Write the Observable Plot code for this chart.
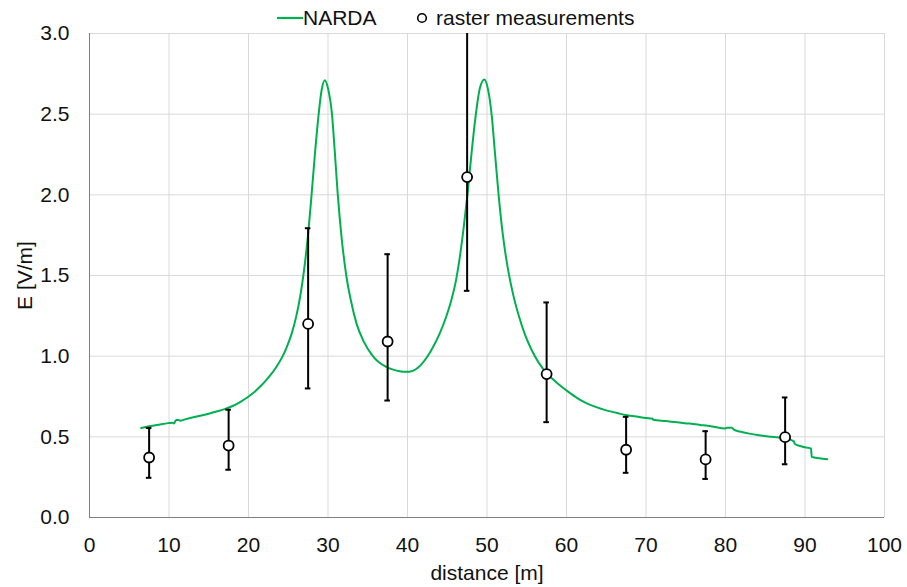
<!DOCTYPE html>
<html>
<head>
<meta charset="utf-8">
<script src="https://cdn.jsdelivr.net/npm/d3@7"></script>
<script src="https://cdn.jsdelivr.net/npm/@observablehq/plot@0.6"></script>
<style>
  body { margin: 0; background: #fff; font-family: "Liberation Sans", Arial, sans-serif; }
  #wrap { position: relative; width: 907px; height: 587px; }
  #legend { position: absolute; top: 4px; left: 0; width: 907px; height: 28px; font-size: 21px; color: #111; }
  #legend .item { position: absolute; top: 0; display: flex; align-items: center; height: 28px; }
</style>
</head>
<body>
<div id="wrap">
  <div id="chart"></div>
  <div id="legend">
    <div class="item" style="left:277px"><svg width="26" height="10"><line x1="0" y1="5" x2="26" y2="5" stroke="#00b050" stroke-width="2.2"/></svg><span>NARDA</span></div>
    <div class="item" style="left:414px"><svg width="22" height="12"><circle cx="8" cy="6" r="4.3" fill="#fff" stroke="#000" stroke-width="1.6"/></svg><span>raster measurements</span></div>
  </div>
</div>
<script>
// Raster measurements (distance, E, error range)
const measX  = [7.5, 17.5, 27.5, 37.5, 47.5, 57.5, 67.5, 77.5, 87.5];
const measY  = [0.372, 0.446, 1.20, 1.091, 2.11, 0.889, 0.42, 0.36, 0.498];
const measLo = [0.246, 0.296, 0.80, 0.725, 1.405, 0.591, 0.277, 0.239, 0.330];
const measHi = [0.555, 0.668, 1.793, 1.632, 3.0, 1.333, 0.624, 0.535, 0.744];

// NARDA continuous measurement
const nardaX = [6.5, 7.5, 8.5, 9.9, 10.4, 10.6, 10.9, 11.2, 11.5, 12.0, 13.5, 15.0, 16.0, 17.0, 17.7, 18.5, 19.1, 19.8, 20.5, 21.0, 21.6, 22.2, 22.8, 23.4, 24.3, 24.8, 25.4, 26.0, 26.5, 26.9, 27.4, 27.9, 28.35, 28.8, 29.2, 29.6, 30.0, 30.5, 30.85, 31.2, 31.7, 32.3, 32.9, 33.6, 34.5, 35.5, 36.4, 37.4, 38.3, 39.0, 39.7, 40.2, 40.8, 41.3, 41.8, 42.4, 43.2, 44.0, 44.8, 45.5, 46.1, 46.6, 47.1, 47.6, 48.1, 48.6, 49.1, 49.67, 50.1, 50.6, 51.0, 51.46, 52.0, 52.6, 53.3, 54.0, 54.8, 55.6, 56.5, 57.5, 58.5, 59.2, 60.2, 61.3, 62.3, 63.4, 64.5, 65.5, 66.5, 67.6, 69.0, 70.0, 70.8, 70.9, 72.5, 73.9, 75.5, 76.8, 78.5, 79.9, 80.2, 80.8, 81.1, 81.8, 83.0, 84.2, 85.8, 87.5, 88.6, 88.7, 89.6, 90.6, 90.75, 90.85, 91.8, 92.8];
const nardaY = [0.555, 0.565, 0.573, 0.585, 0.588, 0.583, 0.604, 0.605, 0.600, 0.608, 0.626, 0.643, 0.657, 0.672, 0.685, 0.703, 0.72, 0.742, 0.768, 0.79, 0.818, 0.85, 0.885, 0.925, 1.0, 1.055, 1.135, 1.245, 1.37, 1.5, 1.71, 1.98, 2.25, 2.49, 2.65, 2.71, 2.66, 2.5, 2.27, 2.02, 1.74, 1.5, 1.34, 1.2, 1.09, 1.01, 0.962, 0.932, 0.915, 0.907, 0.903, 0.904, 0.912, 0.928, 0.952, 0.99, 1.055, 1.135, 1.235, 1.345, 1.47, 1.62, 1.81, 2.03, 2.28, 2.5, 2.66, 2.715, 2.66, 2.49, 2.26, 2.0, 1.75, 1.55, 1.38, 1.25, 1.13, 1.04, 0.96, 0.895, 0.848, 0.818, 0.78, 0.742, 0.714, 0.69, 0.672, 0.658, 0.646, 0.634, 0.624, 0.617, 0.613, 0.606, 0.598, 0.59, 0.582, 0.574, 0.563, 0.551, 0.557, 0.556, 0.543, 0.533, 0.52, 0.51, 0.5, 0.49, 0.472, 0.457, 0.44, 0.43, 0.428, 0.376, 0.367, 0.361];

const xTicks = [0, 10, 20, 30, 40, 50, 60, 70, 80, 90, 100];
const yTicks = [0, 0.5, 1.0, 1.5, 2.0, 2.5, 3.0];

const narda = nardaX.map((x, i) => ({x, y: nardaY[i]}));
const meas = measX.map((x, i) => ({x, y: measY[i], lo: measLo[i], hi: measHi[i]}));

const chart = Plot.plot({
  width: 907,
  height: 587,
  marginTop: 33,
  marginBottom: 70,
  marginLeft: 89,
  marginRight: 23,
  style: {fontSize: "21px", fontFamily: "'Liberation Sans', Arial, sans-serif", color: "#111", background: "#fff"},
  x: {domain: [0, 100]},
  y: {domain: [0, 3]},
  marks: [
    Plot.ruleX(xTicks.slice(1), {stroke: "#d9d9d9", strokeWidth: 1}),
    Plot.ruleY(yTicks.slice(1), {stroke: "#d9d9d9", strokeWidth: 1}),
    Plot.ruleX([0], {stroke: "#7f7f7f", strokeWidth: 1}),
    Plot.ruleY([0], {stroke: "#7f7f7f", strokeWidth: 1}),
    Plot.axisX({ticks: xTicks, tickSize: 0, tickPadding: 20, tickFormat: d => String(d), label: "distance [m]", labelAnchor: "center", labelArrow: "none", labelOffset: 62}),
    Plot.axisY({ticks: yTicks, tickSize: 0, tickPadding: 20, tickFormat: d3.format(".1f"), label: "E [V/m]", labelAnchor: "center", labelArrow: "none", labelOffset: 72}),
    Plot.line(narda, {x: "x", y: "y", stroke: "#00b050", strokeWidth: 2, curve: "monotone-x"}),
    Plot.ruleX(meas, {x: "x", y1: "lo", y2: "hi", stroke: "#000", strokeWidth: 2, clip: true}),
    Plot.ruleY(meas.filter(d => d.hi < 3), {y: "hi", x1: d => d.x - 0.35, x2: d => d.x + 0.35, stroke: "#000", strokeWidth: 2}),
    Plot.ruleY(meas, {y: "lo", x1: d => d.x - 0.35, x2: d => d.x + 0.35, stroke: "#000", strokeWidth: 2}),
    Plot.dot(meas, {x: "x", y: "y", r: 5, stroke: "#000", strokeWidth: 1.8, fill: "#fff"})
  ]
});
document.getElementById("chart").appendChild(chart);
</script>
</body>
</html>
